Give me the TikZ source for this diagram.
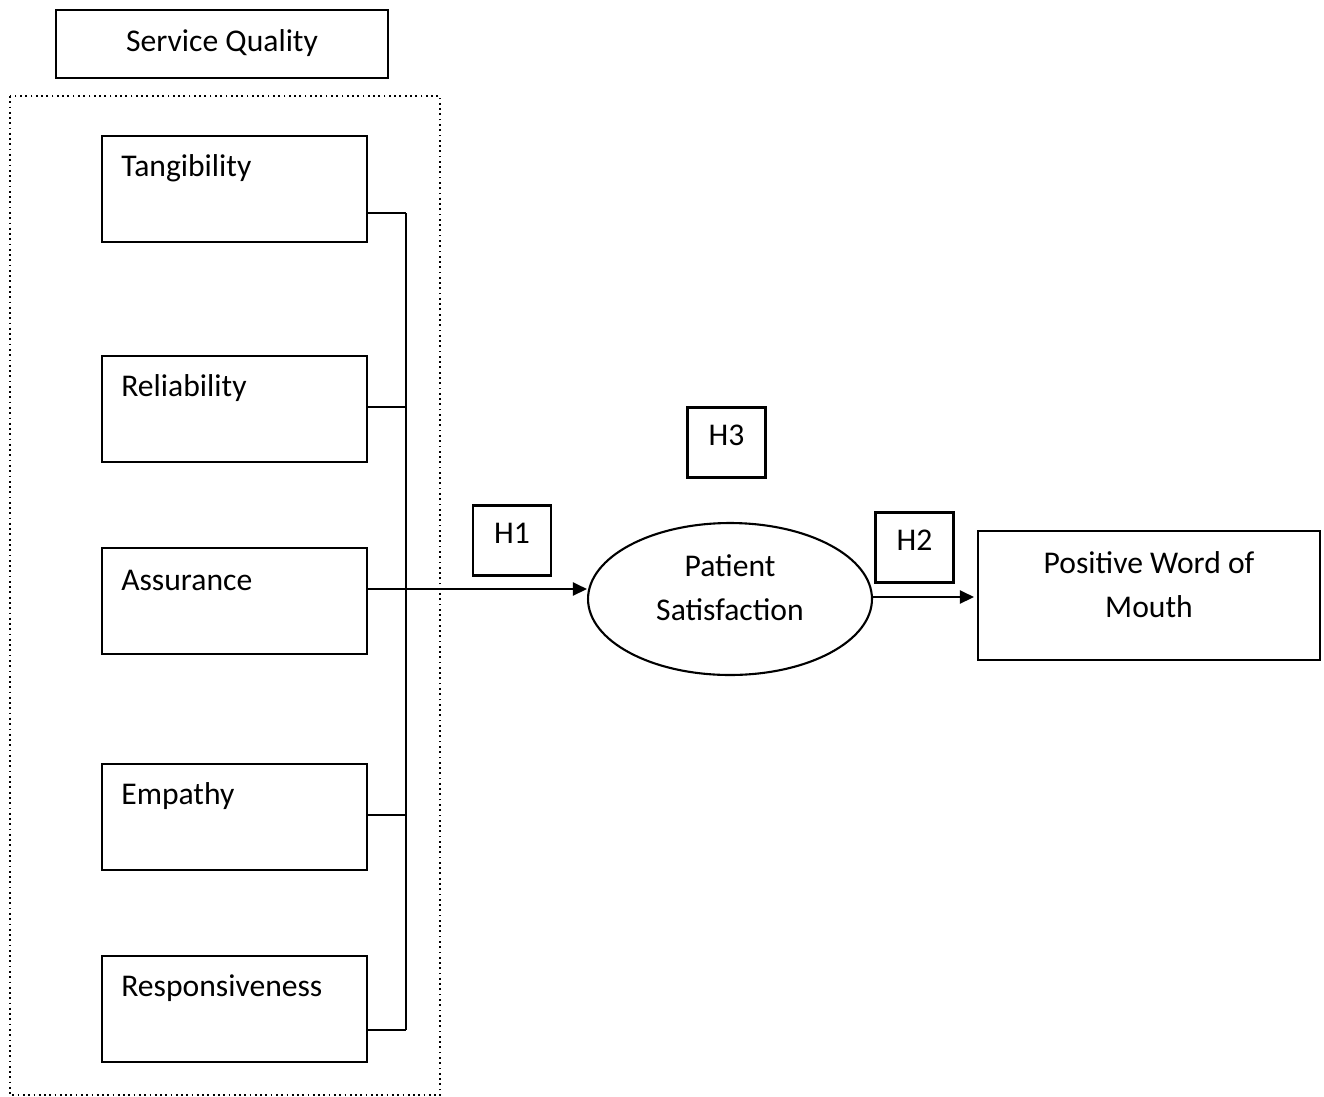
\documentclass[tikz,border=0pt]{standalone}
\usepackage{fontspec}
\setmainfont{Carlito}
\usetikzlibrary{shapes.geometric,arrows.meta}
\tikzset{
    factor/.style={draw, line width=1.2pt, minimum width=5.3cm, minimum height=2.12cm, inner sep=0pt},
    factorname/.style={anchor=west, inner sep=0pt, xshift=0.4cm, yshift=-0.67cm},
    hyp/.style={draw, line width=1.2pt, minimum width=1.56cm, minimum height=1.4cm, inner sep=0pt, text depth=0.3cm},
    link/.style={line width=1.2pt},
    tip/.style={-{Triangle[length=0.28cm,width=0.26cm]}},
}

\begin{document}
\begin{tikzpicture}[x=0.02cm, y=-0.02cm, font=\fontsize{18}{25}\selectfont]
        \useasboundingbox (0,0) rectangle (1324,1096);
        %draw service quality title and dotted frame
        \node[draw, line width=1.2pt, minimum width=6.64cm, minimum height=1.36cm, text depth=0.15cm] (sq) at (222,44) {Service Quality};
        \draw[line width=1pt, dotted] (10,96) rectangle (440,1095);
        %draw the five dimensions
        \node[factor, label={[factorname]north west:Tangibility}] (tang) at (234.5,189) {};
        \node[factor, label={[factorname]north west:Reliability}] (reli) at (234.5,409) {};
        \node[factor, label={[factorname]north west:Assurance}] (assu) at (234.5,601) {};
        \node[factor, label={[factorname]north west:Empathy}] (empa) at (234.5,817) {};
        \node[factor, label={[factorname]north west:Responsiveness}] (resp) at (234.5,1009) {};
        %draw satisfaction, outcome and hypotheses
        \node[draw, ellipse, line width=1.2pt, minimum width=5.68cm, minimum height=3.04cm, inner sep=0pt, align=center, text depth=0.45cm] (sat) at (730,599) {Patient\\Satisfaction};
        \node[draw, line width=1.2pt, minimum width=6.84cm, minimum height=2.58cm, inner sep=0pt, align=center, text depth=0.45cm] (pwom) at (1149,595.5) {Positive Word of\\Mouth};
        \node[hyp] (h1) at (512,540.5) {H1};
        \node[hyp] (h3) at (726.5,442.5) {H3};
        \node[hyp] (h2) at (914.5,547.5) {H2};
        %points on the bus line
        \coordinate (b1) at (406,213);
        \coordinate (b2) at (406,407);
        \coordinate (b3) at (406,589);
        \coordinate (b4) at (406,815);
        \coordinate (b5) at (406,1030);
        %draw bus and stubs
        \draw[link] (b1) -- (b5);
        \draw[link] (tang.east |- b1) -- (b1);
        \draw[link] (reli.east |- b2) -- (b2);
        \draw[link] (empa.east |- b4) -- (b4);
        \draw[link] (resp.east |- b5) -- (b5);
        %draw arrows
        \draw[link, tip] (assu.east |- b3) -- (b3) -- (b3 -| sat.west);
        \draw[link, tip] ([yshift=0.04cm]sat.east) -- ([xshift=-0.06cm, yshift=0.04cm]pwom.west |- sat.east);
    \end{tikzpicture}
\end{document}
